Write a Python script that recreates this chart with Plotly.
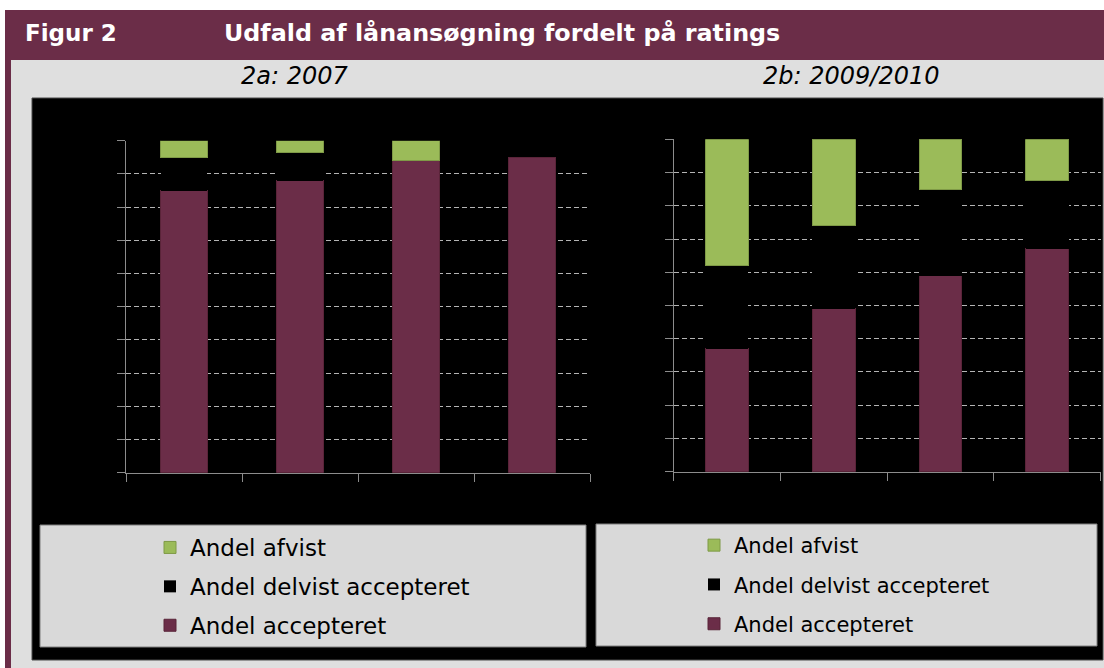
import plotly.graph_objects as go

W, H = 1104, 668

# ---------------- data ----------------
categories = ["Rating 1", "Rating 2", "Rating 3", "Rating 4"]
series_names = ["Andel accepteret", "Andel delvist accepteret", "Andel afvist"]

accepteret_2007 = [85, 88, 94, 95]
delvist_2007 = [10, 8.5, 0, 5]
afvist_2007 = [5, 3.5, 6, 0]

accepteret_2009 = [37, 49, 59, 67]
delvist_2009 = [25, 25, 26, 20.5]
afvist_2009 = [38, 26, 15, 12.5]

title_left = "Figur 2"
title_main = "Udfald af lånansøgning fordelt på ratings"
sub_a = "2a: 2007"
sub_b = "2b: 2009/2010"

# ---------------- styles ----------------
MAROON = "#6b2d48"
MAROON_EDGE = "#5a2439"
GREEN = "#9bbb59"
GREEN_EDGE = "#7f9a47"
BLACK = "#000000"
PANEL = "#dfdfdf"
LEGBOX = "#d9d9d9"
AXIS = "#8c8c8c"
GRID = "#b4b4b4"
FONT = "DejaVu Sans, Verdana, sans-serif"


def px(x):
    return x / W


def py(y):
    return 1 - y / H


colors = [MAROON, BLACK, GREEN]
edges = [MAROON_EDGE, BLACK, GREEN_EDGE]
ranks = [3, 2, 1]

fig = go.Figure()

panels = [
    ("x", "y", "legend", [accepteret_2007, delvist_2007, afvist_2007]),
    ("x2", "y2", "legend2", [accepteret_2009, delvist_2009, afvist_2009]),
]
for xa, ya, leg, vals in panels:
    for i, (name, v) in enumerate(zip(series_names, vals)):
        fig.add_trace(go.Bar(
            x=categories, y=v, name=name,
            xaxis=xa, yaxis=ya, legend=leg,
            legendrank=ranks[i], legendgroup=f"{leg}_{i}",
            marker=dict(color=colors[i],
                        line=dict(color=edges[i],
                                  width=[1 if (val > 0 and i != 1) else 0 for val in v])),
            hoverinfo="x+y+name",
        ))

axis_common_x = dict(
    showline=True, linecolor=AXIS, linewidth=1,
    ticks="outside", ticklen=8, tickcolor=AXIS, tickwidth=1,
    tickson="boundaries", showgrid=False, showticklabels=False,
    zeroline=False, fixedrange=True,
)
axis_common_y = dict(
    range=[0, 100], dtick=10, tick0=0,
    showline=True, linecolor=AXIS, linewidth=1,
    ticks="outside", ticklen=8, tickcolor=AXIS, tickwidth=1,
    showgrid=True, gridcolor=GRID, gridwidth=1, griddash="5px,3px",
    showticklabels=False, zeroline=False, fixedrange=True,
)

leg_common = dict(
    bgcolor="rgba(0,0,0,0)", borderwidth=0,
    traceorder="grouped",
    xanchor="left", yanchor="top", orientation="v",
    itemclick=False, itemdoubleclick=False,
)

fig.update_layout(
    width=W, height=H,
    margin=dict(l=0, r=0, t=0, b=0),
    paper_bgcolor="#ffffff", plot_bgcolor="rgba(0,0,0,0)",
    barmode="stack", bargap=0.6,
    showlegend=True,
    xaxis=dict(domain=[px(126), px(590)], anchor="y", **axis_common_x),
    yaxis=dict(domain=[py(472.7), py(140.7)], anchor="x", **axis_common_y),
    xaxis2=dict(domain=[px(673.7), px(1100.7)], anchor="y2", **axis_common_x),
    yaxis2=dict(domain=[py(471.7), py(139.3)], anchor="x2", **axis_common_y),
    legend=dict(x=px(150), y=py(526), tracegroupgap=6,
                font=dict(family=FONT, size=23, color="#000000"), **leg_common),
    legend2=dict(x=px(694), y=py(525), tracegroupgap=9,
                 font=dict(family=FONT, size=21, color="#000000"), **leg_common),
)

shapes = [
    # header bar
    dict(x0=px(5), x1=px(1104), y0=py(60), y1=py(10), fillcolor=MAROON),
    # left maroon strip
    dict(x0=px(5), x1=px(11), y0=py(668), y1=py(60), fillcolor=MAROON),
    # light gray panel
    dict(x0=px(11), x1=px(1104), y0=py(668), y1=py(60), fillcolor=PANEL),
    # black chart area
    dict(x0=px(32), x1=px(1103), y0=py(660), y1=py(98), fillcolor=BLACK,
         line=dict(color="#4a4a4a", width=1)),
    # legend boxes
    dict(x0=px(40), x1=px(586), y0=py(647), y1=py(525), fillcolor=LEGBOX,
         line=dict(color="#7f7f7f", width=1)),
    dict(x0=px(596), x1=px(1097), y0=py(646), y1=py(524), fillcolor=LEGBOX,
         line=dict(color="#7f7f7f", width=1)),
]
for s in shapes:
    s.update(type="rect", xref="paper", yref="paper", layer="below")
    s.setdefault("line", dict(width=0))
fig.update_layout(shapes=shapes)

ann = [
    dict(text="<b>" + title_left + "</b>", x=px(23), y=py(33), xanchor="left",
         font=dict(family=FONT, size=23, color="#ffffff")),
    dict(text="<b>" + title_main + "</b>", x=px(222), y=py(33), xanchor="left",
         font=dict(family=FONT, size=23.8, color="#ffffff")),
    dict(text="<i>" + sub_a + "</i>", x=px(295), y=py(76), xanchor="center",
         font=dict(family=FONT, size=24, color="#000000")),
    dict(text="<i>" + sub_b + "</i>", x=px(851), y=py(76), xanchor="center",
         font=dict(family=FONT, size=24, color="#000000")),
]
for a in ann:
    a.update(xref="paper", yref="paper", yanchor="middle", showarrow=False)
fig.update_layout(annotations=ann)

fig.write_html(
    "out.html",
    config={"displayModeBar": False},
    post_script="document.body.style.margin='0';document.body.style.overflow='hidden';",
)
